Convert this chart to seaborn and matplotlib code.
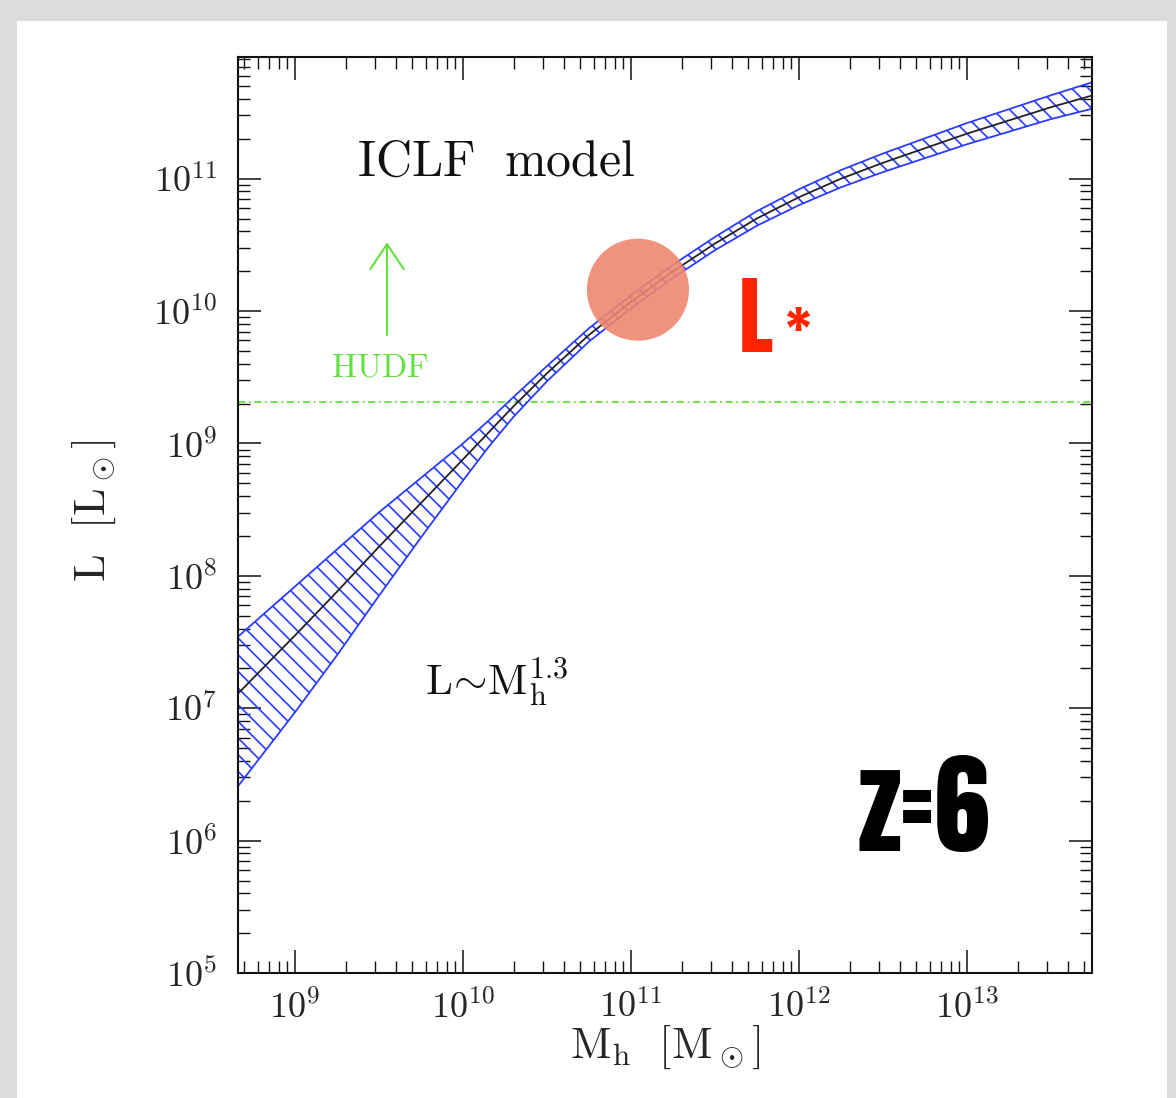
import numpy as np
import pandas as pd
import matplotlib
matplotlib.use('Agg')
import matplotlib.pyplot as plt
import matplotlib.ticker as mticker
from matplotlib import font_manager as fm
from matplotlib.patches import Rectangle
import seaborn as sns

# values (log10 units)
log_mh = [8.66, 9.0, 9.25, 9.5, 9.75, 10.0, 10.15, 10.3, 10.5, 10.75, 11.0, 11.25, 11.5,
          11.75, 12.0, 12.25, 12.5, 12.75, 13.0, 13.25, 13.5, 13.75]
log_l_mid = [7.11, 7.55, 7.88, 8.22, 8.55, 8.88, 9.08, 9.28, 9.53, 9.82, 10.07, 10.30, 10.51,
             10.70, 10.86, 11.00, 11.12, 11.23, 11.34, 11.44, 11.54, 11.63]
log_l_up = [7.54, 7.92, 8.20, 8.48, 8.74, 9.00, 9.17, 9.35, 9.585, 9.87, 10.12, 10.35, 10.56,
            10.755, 10.92, 11.065, 11.19, 11.305, 11.42, 11.525, 11.63, 11.73]
log_l_lo = [6.41, 6.97, 7.40, 7.85, 8.29, 8.72, 8.97, 9.20, 9.47, 9.77, 10.02, 10.25, 10.46,
            10.645, 10.80, 10.935, 11.05, 11.155, 11.26, 11.355, 11.45, 11.53]

hudf_limit = 2.05e9
lstar_mh = 1.1e11
lstar_l = 1.45e10

df = pd.DataFrame({'mh': np.power(10.0, log_mh),
                   'L': np.power(10.0, log_l_mid),
                   'L_up': np.power(10.0, log_l_up),
                   'L_lo': np.power(10.0, log_l_lo)})

sns.set_style('ticks')
plt.rcParams['mathtext.fontset'] = 'cm'
plt.rcParams['font.family'] = ['DejaVu Serif']
plt.rcParams['hatch.linewidth'] = 1.2

# a condensed heavy face for the big slide labels
installed = {f.name for f in fm.fontManager.ttflist}
cond_font = next((n for n in ['Anton', 'Fjalla One', 'PT Sans Narrow', 'Archivo Narrow',
                              'Roboto Condensed', 'Liberation Sans Narrow', 'Oswald']
                  if n in installed), 'DejaVu Sans')

green = '#62e23e'

fig = plt.figure(figsize=(11.76, 10.98), dpi=100, facecolor='#dcdcde')
fig.patches.append(Rectangle((17 / 1176, 0), 1150 / 1176, 1 - 21 / 1098,
                             transform=fig.transFigure, facecolor='white',
                             edgecolor='none', zorder=-10))
ax = fig.add_axes([0.2024, 0.1138, 0.7262, 0.8343])
ax.set_facecolor('none')
ax.set_xscale('log')
ax.set_yscale('log')

ax.fill_between(df['mh'], df['L_lo'], df['L_up'], facecolor='none',
                edgecolor='#2a3cff', hatch='\\\\', linewidth=1.3, zorder=2)
sns.lineplot(data=df, x='mh', y='L', color='#222222', linewidth=1.3, ax=ax, zorder=3)
ax.axhline(hudf_limit, color=green, linestyle='-.', linewidth=1.3, dashes=(4, 2, 1, 2), zorder=1)

sns.scatterplot(x=[lstar_mh], y=[lstar_l], s=5400, color='#ee8670', alpha=0.9,
                edgecolor='none', ax=ax, zorder=4)

ax.set_xlim(4.58e8, 5.55e13)
ax.set_ylim(1e5, 8.3e11)

pow_fmt = mticker.FuncFormatter(lambda v, p: r'$10^{%d}$' % round(np.log10(v)))
ax.xaxis.set_major_locator(mticker.LogLocator(base=10, numticks=20))
ax.xaxis.set_minor_locator(mticker.LogLocator(base=10, subs=np.arange(2, 10), numticks=20))
ax.yaxis.set_major_locator(mticker.LogLocator(base=10, numticks=20))
ax.yaxis.set_minor_locator(mticker.LogLocator(base=10, subs=np.arange(2, 10), numticks=20))
ax.xaxis.set_major_formatter(pow_fmt)
ax.yaxis.set_major_formatter(pow_fmt)
ax.xaxis.set_minor_formatter(mticker.NullFormatter())
ax.yaxis.set_minor_formatter(mticker.NullFormatter())

ax.tick_params(which='both', direction='in', top=True, right=True, color='#111111')
ax.tick_params(which='major', length=16.5, width=1.1, labelsize=26)
ax.tick_params(which='minor', length=8.5, width=1.0)
ax.tick_params(axis='x', which='major', pad=12)
ax.tick_params(axis='y', which='major', pad=15)
for sp in ax.spines.values():
    sp.set_linewidth(1.5)
    sp.set_color('#111111')

ax.set_xlabel(r'$\mathrm{M_h}\ \ [\mathrm{M}_\odot]$', fontsize=32)
ax.set_ylabel(r'$\mathrm{L}\ \ [\mathrm{L}_\odot]$', fontsize=32)
ax.xaxis.set_label_coords(0.5, -0.054)
ax.xaxis.label.set_va('top')
ax.yaxis.set_label_coords(-0.14, 0.505)

ax.text(10 ** 9.37, 10 ** 11.02, r'$\mathrm{ICLF\ \ model}$', fontsize=36, color='#111111',
        ha='left', va='baseline', zorder=5)
ax.text(10 ** 9.774, 10 ** 7.10, r'$\mathrm{L}\!\sim\!\mathrm{M}_\mathrm{h}^{1.3}$', fontsize=31,
        color='#111111', ha='left', va='baseline', zorder=5)
ax.text(3.2e9, 10 ** 9.505, r'$\mathrm{HUDF}$', fontsize=24, color=green,
        ha='center', va='baseline', zorder=5)
ax.annotate('', xy=(3.53e9, 10 ** 10.52), xytext=(3.53e9, 10 ** 9.82),
            arrowprops=dict(arrowstyle='->, head_length=0.6, head_width=0.4', color=green,
                            lw=1.5, mutation_scale=30, shrinkA=0, shrinkB=0), zorder=5)

ax.text(10 ** 11.64, 10 ** 9.69, 'L', fontsize=62, color='#ff2400', fontweight='bold',
        family=[cond_font, 'DejaVu Sans'], ha='left', va='baseline', zorder=5)
ax.text(10 ** 11.99, 10 ** 9.85, '*', fontsize=40, color='#ff2400', fontweight='bold',
        family=[cond_font, 'DejaVu Sans'], ha='center', va='center', zorder=5)
ax.text(10 ** 12.74, 10 ** 5.92, 'z=6', fontsize=80, color='black', fontweight='bold',
        family=[cond_font, 'DejaVu Sans'], ha='center', va='baseline', zorder=5)

plt.savefig('out.png', dpi=100, facecolor=fig.get_facecolor())
